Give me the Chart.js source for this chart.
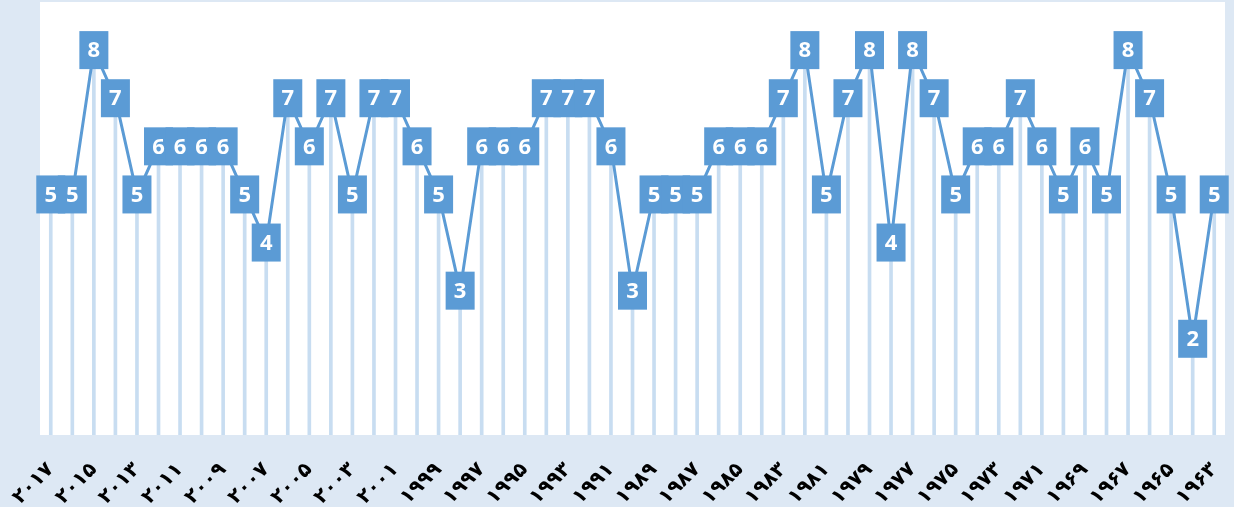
<!DOCTYPE html>
<html>
<head>
<meta charset="utf-8">
<script src="https://cdn.jsdelivr.net/npm/chart.js@4"></script>
<style>
  html, body { margin: 0; padding: 0; background: #dde8f4; }
  #wrap { width: 1234px; height: 507px; position: relative; }
</style>
</head>
<body>
<div id="wrap"><canvas id="myChart"></canvas></div>
<script>
// years, newest first (as on the axis)
var years = [2017, 2016, 2015, 2014, 2013, 2012, 2011, 2010, 2009, 2008,
  2007, 2006, 2005, 2004, 2003, 2002, 2001, 2000, 1999, 1998,
  1997, 1996, 1995, 1994, 1993, 1992, 1991, 1990, 1989, 1988,
  1987, 1986, 1985, 1984, 1983, 1982, 1981, 1980, 1979, 1978,
  1977, 1976, 1975, 1974, 1973, 1972, 1971, 1970, 1969, 1968,
  1967, 1966, 1965, 1964, 1963];
var values = [5, 5, 8, 7, 5, 6, 6, 6, 6, 5,
  4, 7, 6, 7, 5, 7, 7, 6, 5, 3,
  6, 6, 6, 7, 7, 7, 6, 3, 5, 5,
  5, 6, 6, 6, 7, 8, 5, 7, 8, 4,
  8, 7, 5, 6, 6, 7, 6, 5, 6, 5,
  8, 7, 5, 2, 5];
var yMin = 0;
var yMax = 9;

var persianDigits = '۰۱۲۳۴۵۶۷۸۹';
function toPersian(n) {
  return String(n).replace(/[0-9]/g, function(d) { return persianDigits[+d]; });
}
var labels = years.map(toPersian);

var blue = '#5b9bd5';

var bgPlugin = {
  id: 'bg',
  beforeDraw: function(chart) {
    var ctx = chart.ctx, a = chart.chartArea;
    ctx.save();
    ctx.fillStyle = '#dde8f4';
    ctx.fillRect(0, 0, chart.width, chart.height);
    ctx.fillStyle = '#ffffff';
    ctx.fillRect(a.left, a.top, a.right - a.left, a.bottom - a.top);
    ctx.restore();
  }
};

// value boxes drawn over each point
var boxLabels = {
  id: 'boxLabels',
  afterDatasetsDraw: function(chart) {
    var ctx = chart.ctx;
    var meta = chart.getDatasetMeta(1);
    var data = chart.data.datasets[1].data;
    ctx.save();
    meta.data.forEach(function(pt) {
      ctx.fillStyle = blue;
      ctx.fillRect(pt.x - 14.5, pt.y - 19, 29, 38);
    });
    ctx.fillStyle = '#ffffff';
    ctx.font = 'bold 22px "Open Sans", "DejaVu Sans", sans-serif';
    ctx.textAlign = 'center';
    ctx.textBaseline = 'middle';
    meta.data.forEach(function(pt, i) {
      ctx.fillText(String(data[i]), pt.x, pt.y + 1);
    });
    ctx.restore();
  }
};

var ctx = document.getElementById('myChart').getContext('2d');
var chart = new Chart(ctx, {
  type: 'bar',
  data: {
    labels: labels,
    datasets: [{
      // drop lines
      type: 'bar',
      data: values,
      order: 2,
      barThickness: 3,
      backgroundColor: 'rgba(190, 215, 239, 0.85)',
      borderWidth: 0
    }, {
      type: 'line',
      data: values,
      order: 1,
      borderColor: blue,
      borderWidth: 3,
      tension: 0,
      pointRadius: 0,
      fill: false
    }]
  },
  options: {
    responsive: true,
    maintainAspectRatio: false,
    animation: false,
    layout: { padding: { left: 40, right: 9, top: 2, bottom: 0 } },
    plugins: {
      legend: { display: false },
      tooltip: { enabled: false }
    },
    scales: {
      x: {
        offset: true,
        grid: { display: false },
        border: { display: false },
        afterFit: function(scale) {
          scale.height = 72;
          scale.paddingLeft = 0;
          scale.paddingRight = 0;
        },
        ticks: {
          autoSkip: false,
          minRotation: 45,
          maxRotation: 45,
          padding: 15,
          color: '#000000',
          font: { family: '"DejaVu Sans", sans-serif', size: 20, weight: 'bold' },
          callback: function(v, i) { return i % 2 === 0 ? this.getLabelForValue(v) : ''; }
        }
      },
      y: {
        display: false,
        min: yMin,
        max: yMax
      }
    }
  },
  plugins: [bgPlugin, boxLabels]
});
</script>
</body>
</html>
